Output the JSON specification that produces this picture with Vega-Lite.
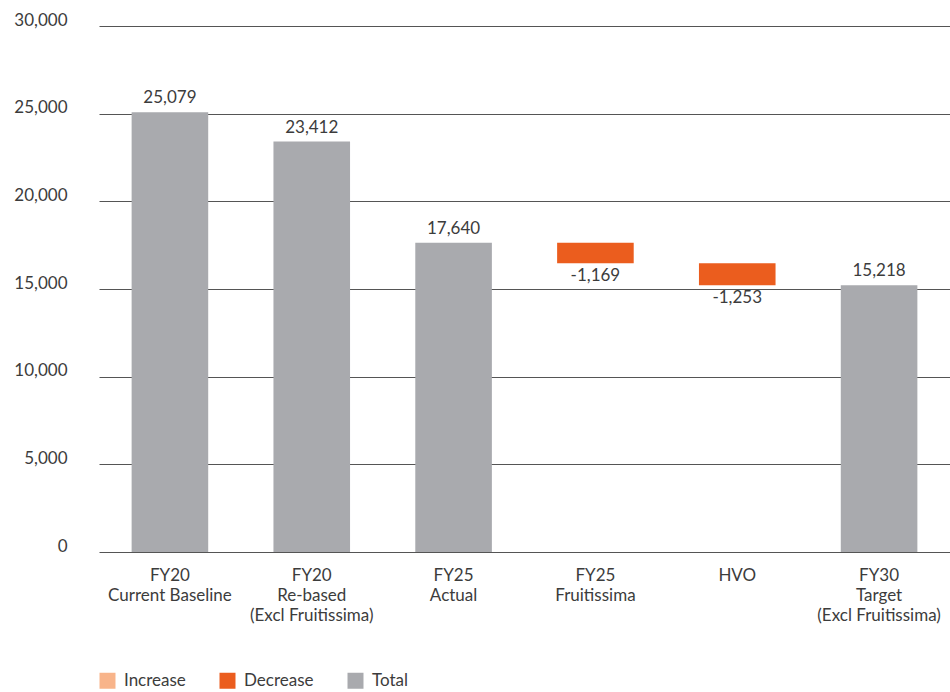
{
  "$schema": "https://vega.github.io/schema/vega-lite/v6.json",
  "width": 851,
  "height": 526,
  "autosize": {"type": "none"},
  "padding": {"left": 99, "top": 26, "right": 0, "bottom": 140},
  "background": "white",
  "config": {
    "font": "Lato",
    "view": {"stroke": null},
    "axis": {"labelFont": "Lato", "labelFontSize": 17, "labelColor": "#3c3c3c"},
    "legend": {"labelFont": "Lato", "labelFontSize": 17, "labelColor": "#3c3c3c"}
  },
  "data": {
    "values": [
      {"category": "FY20|Current Baseline", "lo": 0, "hi": 25079, "type": "Total", "label": "25,079"},
      {"category": "FY20|Re-based|(Excl Fruitissima)", "lo": 0, "hi": 23412, "type": "Total", "label": "23,412"},
      {"category": "FY25|Actual", "lo": 0, "hi": 17640, "type": "Total", "label": "17,640"},
      {"category": "FY25|Fruitissima", "lo": 16471, "hi": 17640, "type": "Decrease", "label": "-1,169"},
      {"category": "HVO", "lo": 15218, "hi": 16471, "type": "Decrease", "label": "-1,253"},
      {"category": "FY30|Target|(Excl Fruitissima)", "lo": 0, "hi": 15218, "type": "Total", "label": "15,218"}
    ]
  },
  "encoding": {
    "x": {
      "field": "category",
      "type": "nominal",
      "sort": null,
      "title": null,
      "scale": {"paddingInner": 0.46, "paddingOuter": 0.23},
      "axis": {
        "labelAngle": 0,
        "domain": false,
        "ticks": false,
        "labelPadding": 15,
        "labelLineHeight": 20,
        "labelExpr": "split(datum.label, '|')"
      }
    }
  },
  "layer": [
    {
      "mark": {"type": "bar"},
      "encoding": {
        "y": {
          "field": "lo",
          "type": "quantitative",
          "title": null,
          "scale": {"domain": [0, 30000], "nice": false},
          "axis": {
            "values": [0, 5000, 10000, 15000, 20000, 25000, 30000],
            "format": ",.0f",
            "grid": true,
            "gridColor": "#555555",
            "gridWidth": 1.2,
            "domain": false,
            "ticks": false,
            "labelPadding": 32,
            "labelOffset": -6,
            "zindex": 0
          }
        },
        "y2": {"field": "hi"},
        "color": {
          "field": "type",
          "type": "nominal",
          "scale": {"domain": ["Increase", "Decrease", "Total"], "range": ["#f8b48a", "#eb5d1e", "#a9aaae"]},
          "legend": {
            "title": null,
            "orient": "none",
            "direction": "horizontal",
            "legendX": 0,
            "legendY": 646,
            "symbolType": "square",
            "symbolSize": 256,
            "symbolStrokeWidth": 0,
            "symbolOpacity": 1,
            "columnPadding": 33,
            "labelOffset": 8
          }
        }
      }
    },
    {
      "transform": [{"filter": "datum.type == 'Total'"}],
      "mark": {"type": "text", "baseline": "bottom", "dy": -5, "fontSize": 17, "color": "#3c3c3c"},
      "encoding": {
        "y": {"field": "hi", "type": "quantitative"},
        "text": {"field": "label"}
      }
    },
    {
      "transform": [{"filter": "datum.type == 'Decrease'"}],
      "mark": {"type": "text", "baseline": "top", "dy": 5, "fontSize": 17, "color": "#3c3c3c"},
      "encoding": {
        "y": {"field": "lo", "type": "quantitative"},
        "text": {"field": "label"}
      }
    }
  ]
}
